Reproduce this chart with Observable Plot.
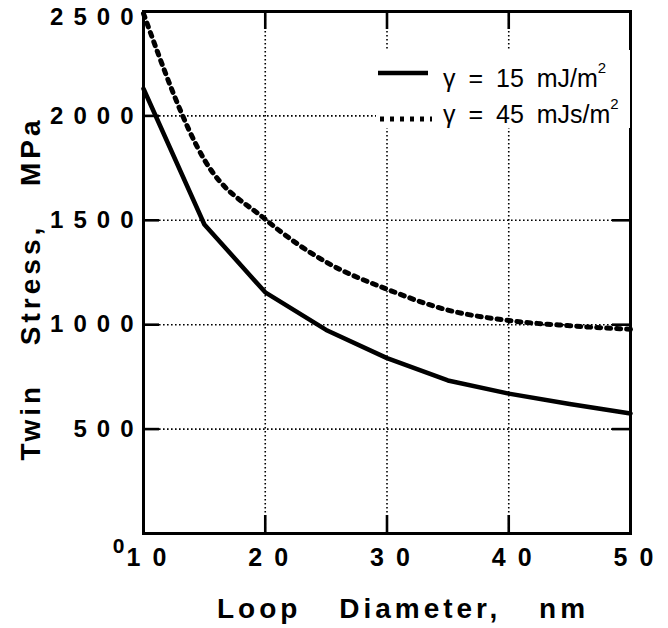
<!DOCTYPE html>
<html><head><meta charset="utf-8">
<script src="https://cdn.jsdelivr.net/npm/d3@7"></script>
<script src="https://cdn.jsdelivr.net/npm/@observablehq/plot@0.6"></script>
<style>
body{margin:0;background:#fff}
#wrap{position:relative;width:668px;height:628px;font-family:"Liberation Sans",Arial,sans-serif}
#wrap svg{font-family:"Liberation Sans",Arial,sans-serif;overflow:visible}
g[aria-label="y-axis tick label"] text{font-size:24px;font-weight:bold;letter-spacing:10px}
g[aria-label="x-axis tick label"] text{font-size:25px;font-weight:bold;letter-spacing:12px}
.title text{font-size:28px;font-weight:bold;letter-spacing:4px;word-spacing:26px}
.zero text{font-size:21px;font-weight:bold}
#legend{position:absolute;left:376px;top:50px;width:254px;height:78px;background:#fff}
#legend svg{position:absolute;left:0}
#legend .txt{position:absolute;left:67px;font-size:25px;line-height:30px;word-spacing:6px;white-space:nowrap}
#legend sup{font-size:15px;position:relative;top:-3px;vertical-align:top;line-height:15px}
</style></head><body><div id="wrap"></div>
<script>
const diameters = [10, 15, 20, 25, 30, 35, 40, 45, 50];
const stress15 = [2130, 1480, 1155, 975, 840, 733, 670, 620, 575];
const stress45 = [2490, 1790, 1505, 1300, 1170, 1070, 1020, 995, 978];
const xTicks = [10, 20, 30, 40, 50];
const yTicks = [0, 500, 1000, 1500, 2000, 2500];
const xGrid = [20, 30, 40];
const yGrid = [500, 1000, 1500, 2000];
const seriesNames = ["γ = 15 mJ/m", "γ = 45 mJs/m"];
const xTitle = "Loop Diameter, nm";
const yTitle = "Twin Stress, MPa";

const s15 = diameters.map((d, i) => ({d, s: stress15[i]}));
const s45 = diameters.map((d, i) => ({d, s: stress45[i]}));

const W = 668, H = 628, mL = 143, mR = 38, mT = 11, mB = 95;
const innerW = W - mL - mR, innerH = H - mT - mB;
const tickStyle = {stroke: "#000", strokeWidth: 2.6};
const yMax = d3.max(yTicks);

const chart = Plot.plot({
  width: W, height: H,
  marginLeft: mL, marginRight: mR, marginTop: mT, marginBottom: mB,
  x: {domain: [10, 50]},
  y: {domain: [0, 2500]},
  marks: [
    Plot.ruleX(xGrid, {stroke: "#000", strokeWidth: 1.6, strokeDasharray: "1.6,2.4"}),
    Plot.ruleY(yGrid, {stroke: "#000", strokeWidth: 1.6, strokeDasharray: "1.6,2.4"}),
    // inward ticks
    Plot.ruleY(yGrid, {...tickStyle, insetRight: innerW - 16}),
    Plot.ruleY(yGrid, {...tickStyle, insetLeft: innerW - 18}),
    Plot.ruleX(xGrid, {...tickStyle, insetTop: innerH - 18}),
    Plot.ruleX(xGrid, {...tickStyle, insetBottom: innerH - 18}),
    Plot.axisY(yTicks.filter(d => d > 0 && d < yMax), {anchor: "left", tickSize: 0, tickPadding: 0, fill: "#000",
      tickFormat: d => String(d), label: null}),
    Plot.axisY([yMax], {anchor: "left", tickSize: 0, tickPadding: 0, dy: 6, fill: "#000",
      tickFormat: d => String(d), label: null}),
    Plot.axisX(xTicks, {anchor: "bottom", tickSize: 0, tickPadding: 15, dx: 9, fill: "#000",
      tickFormat: d => String(d), label: null}),
    Plot.text([0], {x: 10, y: d => d, text: d => String(d), dx: -25, dy: 13, className: "zero", fill: "#000"}),
    Plot.text([xTitle], {frameAnchor: "bottom", text: d => d, lineAnchor: "bottom", textAnchor: "middle", dx: 16, dy: 84, className: "title", fill: "#000"}),
    Plot.text([yTitle], {frameAnchor: "left", text: d => d, rotate: -90, lineAnchor: "bottom", textAnchor: "middle", dx: -104, dy: 16, className: "title", fill: "#000"}),
    Plot.line(s45, {x: "d", y: "s", stroke: "#000", strokeWidth: 5, strokeDasharray: "4,6", curve: "monotone-x"}),
    Plot.line(s15, {x: "d", y: "s", stroke: "#000", strokeWidth: 4.5}),
    Plot.frame({stroke: "#000", strokeWidth: 3})
  ]
});
const wrap = document.getElementById("wrap");
wrap.appendChild(chart);

const legend = document.createElement("div");
legend.id = "legend";
const ns = "http://www.w3.org/2000/svg";
const rows = [
  {dash: null, lineTop: 18, x1: 2, x2: 52, textTop: 13},
  {dash: "4,6", lineTop: 64, x1: 4, x2: 56, textTop: 49}
];
seriesNames.forEach((name, i) => {
  const r = rows[i];
  const svg = document.createElementNS(ns, "svg");
  svg.setAttribute("width", 60); svg.setAttribute("height", 10);
  svg.style.top = r.lineTop + "px";
  const ln = document.createElementNS(ns, "line");
  ln.setAttribute("x1", r.x1); ln.setAttribute("x2", r.x2); ln.setAttribute("y1", 5); ln.setAttribute("y2", 5);
  ln.setAttribute("stroke", "#000"); ln.setAttribute("stroke-width", r.dash ? 5 : 4.5);
  if (r.dash) ln.setAttribute("stroke-dasharray", r.dash);
  svg.appendChild(ln);
  legend.appendChild(svg);
  const span = document.createElement("div");
  span.className = "txt";
  span.style.top = r.textTop + "px";
  span.innerHTML = name + "<sup>2</sup>";
  legend.appendChild(span);
});
wrap.appendChild(legend);
</script></body></html>
